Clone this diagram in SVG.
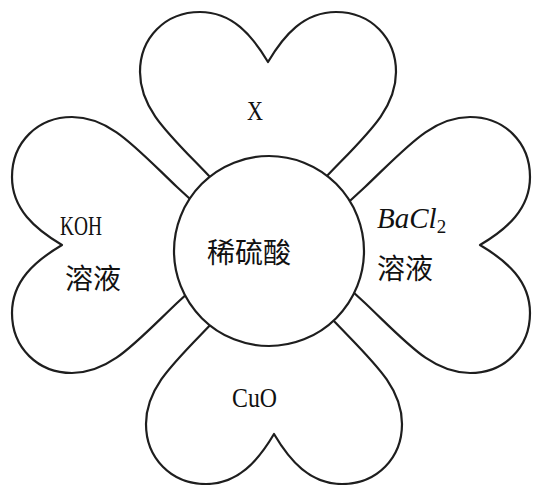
<svg xmlns="http://www.w3.org/2000/svg" width="533" height="485" viewBox="0 0 533 485">
<style>
.shape{fill:#fff;stroke:#1e1e1e;stroke-width:2.2;stroke-linejoin:round}
.lat{font-family:"Liberation Serif",serif;font-size:28px;fill:#111}
.cjk{font-family:"Noto Sans CJK SC",sans-serif;font-size:28px;fill:#111}
.math{font-family:"Liberation Serif",serif;font-style:italic;font-size:29px;fill:#111}
</style>
<defs>
<path id="heart" d="M0,-188 C-16,-215 -36,-238 -68,-238 C-103,-238 -128,-212 -128,-178 C-128,-140 -98,-115 -58,-73 L0,-10 L58,-73 C98,-115 128,-140 128,-178 C128,-212 103,-238 68,-238 C36,-238 16,-215 0,-188 Z"/>
</defs>
<g id="petal-top">
<use href="#heart" class="shape" transform="translate(268,250)"/>
<text class="lat" x="247" y="120" textLength="16" lengthAdjust="spacingAndGlyphs">X</text>
</g>
<g id="petal-left">
<use href="#heart" class="shape" transform="translate(270,245) rotate(-90) translate(0,-20)"/>
<text class="lat" x="60" y="235" textLength="42" lengthAdjust="spacingAndGlyphs">KOH</text>
<text class="cjk" x="65" y="289">溶液</text>
</g>
<g id="petal-right">
<use href="#heart" class="shape" transform="translate(270,245) rotate(90) translate(0,-22)"/>
<text class="math" x="377" y="228">BaCl<tspan font-size="19" dy="5" font-style="normal">2</tspan></text>
<text class="cjk" x="377" y="279">溶液</text>
</g>
<g id="petal-bottom">
<use href="#heart" class="shape" transform="translate(274,246) rotate(180)"/>
<text class="lat" x="232" y="407" textLength="45" lengthAdjust="spacingAndGlyphs">CuO</text>
</g>
<g id="center">
<circle class="shape" cx="269" cy="251" r="95"/>
<text class="cjk" x="207" y="263">稀硫酸</text>
</g>
</svg>
